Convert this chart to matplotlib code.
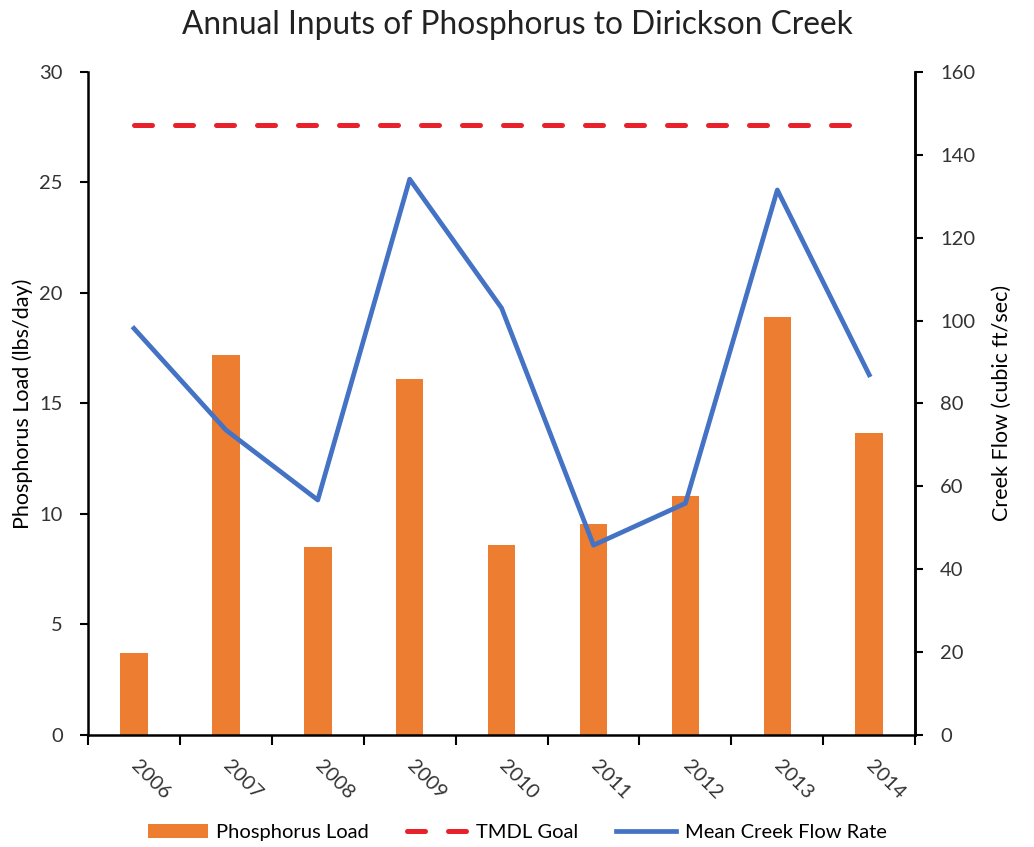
import matplotlib
matplotlib.use("Agg")
import matplotlib.pyplot as plt
import numpy as np
from matplotlib.ticker import FixedLocator

years = ["2006", "2007", "2008", "2009", "2010", "2011", "2012", "2013", "2014"]
phosphorus_load = [3.7, 17.2, 8.5, 16.1, 8.6, 9.55, 10.8, 18.9, 13.65]
creek_flow = [98.1, 73.6, 56.7, 134.1, 103.0, 45.8, 55.9, 131.5, 86.9]
tmdl_goal = [27.6] * len(years)

plt.rcParams['font.family'] = ['Lato', 'DejaVu Sans']

fig = plt.figure(figsize=(10.34, 8.47), dpi=100)
ax = fig.add_axes([0.0851, 0.1322, 0.8, 0.783])
ax2 = ax.twinx()

x = np.arange(len(years))
orange = '#ED7D31'
blue = '#4472C4'
red = '#E8212B'
txtc = '#333333'

bars = ax.bar(x, phosphorus_load, width=0.30, color=orange, zorder=2, label='Phosphorus Load')
tm, = ax.plot(x, tmdl_goal, color=red, lw=3.6, ls=(0, (3.6, 4.6)), dash_capstyle='round',
              zorder=3, label='TMDL Goal')
fl, = ax2.plot(x, creek_flow, color=blue, lw=3.4, zorder=3, label='Mean Creek Flow Rate')

ax.set_xlim(-0.5, len(years) - 0.5)
ax.set_ylim(0, 30)
ax.set_yticks([0, 5, 10, 15, 20, 25, 30])
ax2.set_ylim(0, 160)
ax2.set_yticks([0, 20, 40, 60, 80, 100, 120, 140, 160])

ax.set_xticks(x, labels=years, rotation=-45, ha='left', va='center', rotation_mode='anchor')
ax.xaxis.set_minor_locator(FixedLocator(np.arange(-0.5, len(years), 1.0)))
ax.tick_params(axis='x', which='minor', length=7, width=1.5, direction='out')
ax.tick_params(axis='x', which='major', length=0, pad=20, labelsize=14.5, labelcolor=txtc)

ax.tick_params(axis='y', length=6, width=1.5, direction='out', labelsize=14.5, labelcolor=txtc, pad=12)
ax2.tick_params(axis='y', length=6, width=1.5, direction='out', labelsize=14.5, labelcolor=txtc, pad=12)

for a in (ax, ax2):
    a.spines['top'].set_visible(False)
    for s in ('left', 'right', 'bottom'):
        a.spines[s].set_linewidth(1.8)
ax2.spines['left'].set_visible(False)
ax2.spines['bottom'].set_visible(False)

ax.set_ylabel('Phosphorus Load (lbs/day)', fontsize=15.5, labelpad=5)
ax2.set_ylabel('Creek Flow (cubic ft/sec)', fontsize=15.5, labelpad=12)

fig.suptitle('Annual Inputs of Phosphorus to Dirickson Creek', fontsize=22.8, y=0.988, color='#222222')

fig.legend(handles=[bars, tm, fl], loc='lower center', bbox_to_anchor=(0.5, -0.014), ncol=3,
           frameon=False, fontsize=14.5, handlelength=3.0, columnspacing=1.9, handletextpad=0.4)

fig.savefig('out.png', dpi=100)
